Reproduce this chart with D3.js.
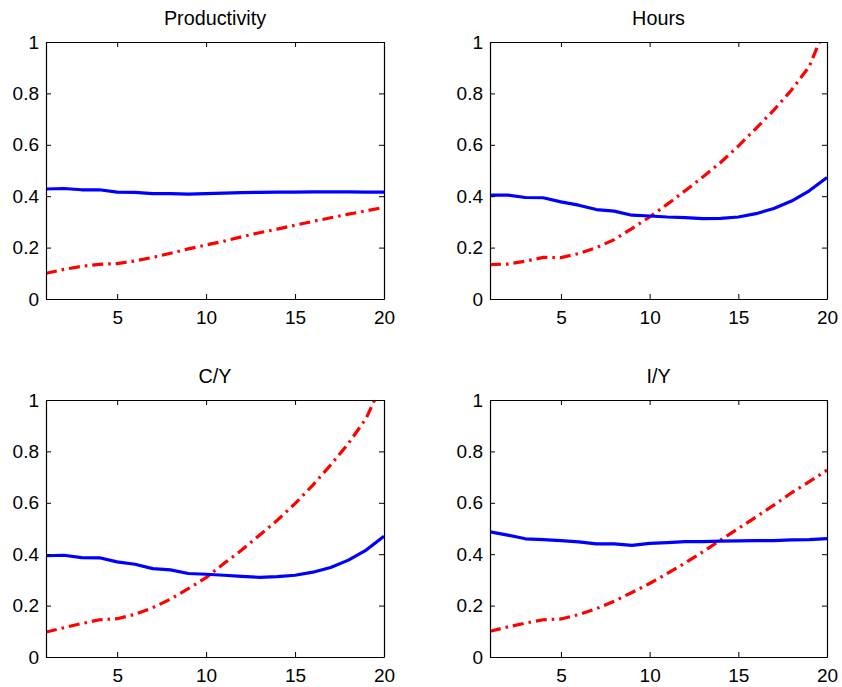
<!DOCTYPE html>
<html>
<head>
<meta charset="utf-8">
<script src="https://cdn.jsdelivr.net/npm/d3@7"></script>
<style>
  html, body { margin: 0; padding: 0; background: #fff; }
  svg { display: block; font-family: "Liberation Sans", Arial, Helvetica, sans-serif; }
</style>
</head>
<body>
<svg id="chart" width="842" height="687"></svg>
<script>
// Horizon (periods 1..20)
const periods = d3.range(1, 21);

// Panel titles
const titles = ["Productivity", "Hours", "C/Y", "I/Y"];

// Solid blue series, one array per panel
const productivityBlue = [0.428, 0.430, 0.425, 0.425, 0.416, 0.415, 0.410, 0.410, 0.408, 0.410,
                          0.412, 0.414, 0.415, 0.416, 0.416, 0.417, 0.417, 0.417, 0.416, 0.416];
const hoursBlue = [0.404, 0.404, 0.395, 0.394, 0.378, 0.365, 0.348, 0.342, 0.326, 0.323,
                   0.319, 0.317, 0.313, 0.314, 0.319, 0.332, 0.352, 0.381, 0.421, 0.473];
const cyBlue = [0.394, 0.396, 0.387, 0.386, 0.370, 0.361, 0.344, 0.339, 0.325, 0.322,
                0.318, 0.314, 0.310, 0.313, 0.318, 0.330, 0.348, 0.377, 0.416, 0.470];
const iyBlue = [0.487, 0.474, 0.460, 0.457, 0.453, 0.448, 0.440, 0.440, 0.434, 0.442,
                0.445, 0.449, 0.449, 0.451, 0.452, 0.453, 0.453, 0.456, 0.457, 0.461];

// Dash-dot red series, one array per panel
const productivityRed = [0.100, 0.115, 0.127, 0.135, 0.138, 0.148, 0.162, 0.178, 0.195, 0.210,
                         0.225, 0.242, 0.258, 0.272, 0.287, 0.302, 0.316, 0.330, 0.343, 0.357];
const hoursRed = [0.134, 0.136, 0.147, 0.162, 0.161, 0.177, 0.200, 0.231, 0.274, 0.319,
                  0.369, 0.421, 0.475, 0.531, 0.595, 0.664, 0.735, 0.813, 0.905, 1.070];
const cyRed = [0.097, 0.114, 0.130, 0.145, 0.149, 0.166, 0.192, 0.225, 0.266, 0.309,
               0.364, 0.416, 0.474, 0.532, 0.597, 0.669, 0.747, 0.831, 0.929, 1.080];
const iyRed = [0.100, 0.117, 0.132, 0.145, 0.148, 0.165, 0.188, 0.217, 0.251, 0.286,
               0.325, 0.366, 0.409, 0.455, 0.500, 0.545, 0.591, 0.639, 0.682, 0.727];

// Axis ticks
const xTicks = [5, 10, 15, 20];
const yTicks = [0, 0.2, 0.4, 0.6, 0.8, 1];

const blueSeries = [productivityBlue, hoursBlue, cyBlue, iyBlue];
const redSeries = [productivityRed, hoursRed, cyRed, iyRed];

// Panel frames: left/right edges by column, top/bottom by row
const cols = [[46, 384], [490, 827]];
const rows = [[42, 299], [400, 657]];

const svg = d3.select("#chart");

titles.forEach((title, i) => {
  const [x0, x1] = cols[i % 2];
  const [y0, y1] = rows[Math.floor(i / 2)];

  const x = d3.scaleLinear().domain([1, 20]).range([x0, x1]);
  const y = d3.scaleLinear().domain([0, 1]).range([y1, y0]);

  const g = svg.append("g");

  const clipId = "clip" + i;
  g.append("clipPath").attr("id", clipId)
    .append("rect")
    .attr("x", x0).attr("y", y0)
    .attr("width", x1 - x0).attr("height", y1 - y0);

  const line = d3.line()
    .x((d, k) => x(periods[k]))
    .y(d => y(d));

  const plot = g.append("g").attr("clip-path", `url(#${clipId})`);

  plot.append("path")
    .datum(redSeries[i])
    .attr("d", line)
    .attr("fill", "none")
    .attr("stroke", "#ff0000")
    .attr("stroke-width", 3.2)
    .attr("stroke-dasharray", "11,5,2.5,5");

  plot.append("path")
    .datum(blueSeries[i])
    .attr("d", line)
    .attr("fill", "none")
    .attr("stroke", "#0000ff")
    .attr("stroke-width", 3.2)
    .attr("stroke-linejoin", "round");

  // Box axes with inward ticks on all four sides
  const tickLen = 5;
  const axBottom = d3.axisBottom(x).tickValues(xTicks).tickSizeInner(-tickLen).tickSizeOuter(0)
    .tickPadding(12).tickFormat(d3.format("d"));
  const axTop = d3.axisTop(x).tickValues(xTicks).tickSizeInner(-tickLen).tickSizeOuter(0)
    .tickFormat("");
  const axLeft = d3.axisLeft(y).tickValues(yTicks).tickSizeInner(-tickLen).tickSizeOuter(0)
    .tickPadding(7).tickFormat(d => d === 0 || d === 1 ? String(d) : d3.format(".1f")(d));
  const axRight = d3.axisRight(y).tickValues(yTicks).tickSizeInner(-tickLen).tickSizeOuter(0)
    .tickFormat("");

  const style = sel => {
    sel.selectAll("path.domain").attr("stroke", "#000").attr("stroke-width", 1.2);
    sel.selectAll(".tick line").attr("stroke", "#000").attr("stroke-width", 1);
    sel.selectAll(".tick text")
      .attr("fill", "#000")
      .style("font-size", "19px")
      .style("font-family", '"Liberation Sans", Arial, sans-serif');
  };

  g.append("g").attr("transform", `translate(0,${y1})`).call(axBottom).call(style);
  g.append("g").attr("transform", `translate(0,${y0})`).call(axTop).call(style);
  g.append("g").attr("transform", `translate(${x0},0)`).call(axLeft).call(style);
  g.append("g").attr("transform", `translate(${x1},0)`).call(axRight).call(style);

  g.append("text")
    .attr("x", (x0 + x1) / 2)
    .attr("y", y0 - 17)
    .attr("text-anchor", "middle")
    .style("font-size", "19.8px")
    .attr("fill", "#000")
    .text(title);
});
</script>
</body>
</html>
